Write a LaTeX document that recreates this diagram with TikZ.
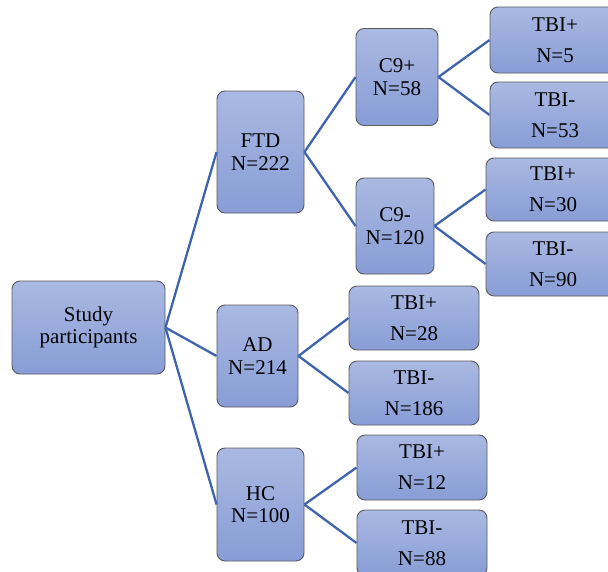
\documentclass[tikz,border=0pt]{standalone}
\usepackage{fontspec}
\setmainfont{Liberation Serif}
\definecolor{boxtop}{RGB}{170,185,226}
\definecolor{boxbot}{RGB}{136,157,214}
\definecolor{boxline}{RGB}{90,90,95}
\definecolor{conn}{RGB}{62,100,172}
\tikzset{
  box/.style={draw=boxline, line width=0.9pt, rounded corners=8pt,
    top color=boxtop, bottom color=boxbot, align=center, inner sep=0pt,
    font=\fontsize{21}{22.5}\selectfont},
  tbi/.style={box, font=\fontsize{21}{31}\selectfont},
  link/.style={draw=conn, line width=2.3pt}
}
\begin{document}
\begin{tikzpicture}[x=1pt,y=-1pt]
\useasboundingbox (0,0) rectangle (608,571);
\clip (0,0) rectangle (608,571);
\node[box, minimum width=153pt, minimum height=93pt] (sp) at (88.5,327.5) {Study\\participants};
\node[box, minimum width=87pt, minimum height=122pt] (ftd) at (260.5,152) {FTD\\N=222};
\node[box, minimum width=81pt, minimum height=102pt] (ad) at (257.5,356) {AD\\N=214};
\node[box, minimum width=87pt, minimum height=113pt] (hc) at (260.5,504.5) {HC\\N=100};
\node[box, minimum width=82pt, minimum height=97pt] (c9p) at (397,77) {C9+\\N=58};
\node[box, minimum width=78pt, minimum height=96pt] (c9m) at (395,226) {C9-\\N=120};
\node[tbi, minimum width=130pt, minimum height=66pt] (tp5) at (555,40) {TBI+\\N=5};
\node[tbi, minimum width=130pt, minimum height=66pt] (tm53) at (555,115) {TBI-\\N=53};
\node[tbi, minimum width=134pt, minimum height=63pt] (tp30) at (553,189.5) {TBI+\\N=30};
\node[tbi, minimum width=134pt, minimum height=64pt] (tm90) at (553,264) {TBI-\\N=90};
\node[tbi, minimum width=130pt, minimum height=64pt] (tp28) at (414,318) {TBI+\\N=28};
\node[tbi, minimum width=130pt, minimum height=64pt] (tm186) at (414,393) {TBI-\\N=186};
\node[tbi, minimum width=130pt, minimum height=65pt] (tp12) at (422,467.5) {TBI+\\N=12};
\node[tbi, minimum width=130pt, minimum height=66pt] (tm88) at (422,543) {TBI-\\N=88};
\draw[link] (sp.east) -- (ftd.west);
\draw[link] (sp.east) -- (ad.west);
\draw[link] (sp.east) -- (hc.west);
\draw[link] (ftd.east) -- (c9p.west);
\draw[link] (ftd.east) -- (c9m.west);
\draw[link] (c9p.east) -- (tp5.west);
\draw[link] (c9p.east) -- (tm53.west);
\draw[link] (c9m.east) -- (tp30.west);
\draw[link] (c9m.east) -- (tm90.west);
\draw[link] (ad.east) -- (tp28.west);
\draw[link] (ad.east) -- (tm186.west);
\draw[link] (hc.east) -- (tp12.west);
\draw[link] (hc.east) -- (tm88.west);
\end{tikzpicture}
\end{document}
